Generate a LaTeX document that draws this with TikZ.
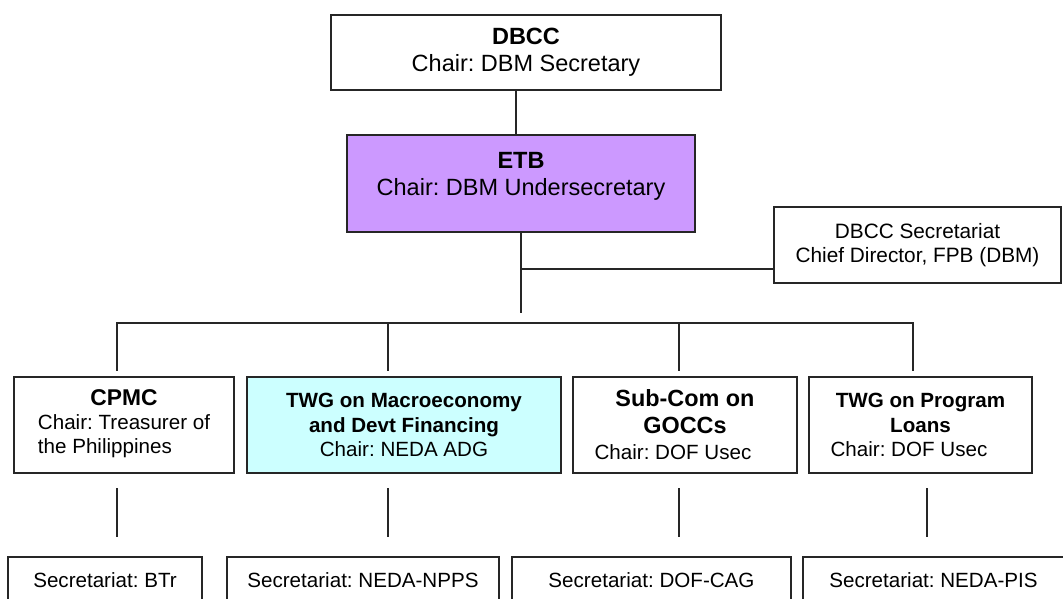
\documentclass[tikz,border=0pt]{standalone}
\usepackage{fontspec}
\setmainfont{Liberation Sans}
\usepackage{xcolor}
\usepackage{tikz}
\usetikzlibrary{positioning,calc}
\definecolor{etbfill}{HTML}{CC99FF}
\definecolor{twgfill}{HTML}{CCFFFF}
\AtBeginDocument{\frenchspacing}

\begin{document}
\begin{tikzpicture}[x=1pt, y=1pt,
  topbox/.style={rectangle, draw=black!85, line width=1.6pt, inner sep=0pt, outer sep=0pt, align=center, font=\fontsize{23.5}{27}\selectfont},
  unit/.style={rectangle, draw=black!85, line width=1.6pt, inner sep=0pt, outer sep=0pt, align=center, minimum height=96pt, font=\fontsize{20.6}{24.3}\selectfont},
  secbox/.style={rectangle, draw=black!85, line width=1.6pt, inner sep=0pt, outer sep=0pt, align=center, minimum height=76pt, font=\fontsize{20.8}{24.5}\selectfont},
  secr/.style={rectangle, draw=black!85, line width=1.6pt, inner sep=0pt, outer sep=0pt, minimum height=46pt, text height=15pt, text depth=0pt, font=\fontsize{20.6}{24.3}\selectfont},
  link/.style={draw=black!85, line width=1.6pt, line cap=rect}
]
\path[use as bounding box, clip] (0,0) rectangle (1063,-599);
\node[topbox, minimum width=390pt, minimum height=75pt] (dbcc) at (526,-52.5) {\textbf{DBCC}\\Chair: DBM Secretary};
\node[topbox, fill=etbfill, minimum width=348pt, minimum height=97pt] (etb) at (521,-183.5) {\textbf{ETB}\\Chair: DBM Undersecretary\\[-8pt]\mbox{}};
\node[secbox, minimum width=287pt] (sec) at (917.5,-245) {DBCC Secretariat\\Chief Director, FPB (DBM)};
\draw[link] ([xshift=-10pt]dbcc.south) -- ([xshift=-5pt]etb.north);
\draw[link] (etb.south) -- ++(0,-80) coordinate (trunk);
\coordinate (seclink) at ([yshift=-24pt]sec.west);
\draw[link] (seclink) -- (etb.south |- seclink);
\node[unit, minimum width=220pt] (cpmc) at (124,-425) {{\fontsize{22.8}{26}\selectfont\bfseries CPMC}\\\begin{tabular}[t]{@{}l@{}}Chair: Treasurer of\\the Philippines\end{tabular}};
\node[unit, fill=twgfill, minimum width=314pt, right=13pt of cpmc] (macro) {\textbf{TWG on Macroeconomy}\\\textbf{and Devt Financing}\\Chair: NEDA ADG};
\node[unit, minimum width=224pt, right=12pt of macro, font=\fontsize{20.6}{26.5}\selectfont] (subcom) {{\fontsize{23.4}{27}\selectfont\bfseries Sub-Com on}\\{\fontsize{23.4}{27}\selectfont\bfseries GOCCs}\\Chair: DOF Usec\hspace*{24pt}};
\node[unit, minimum width=223pt, right=12pt of subcom] (prog) {\textbf{TWG on Program}\\\textbf{Loans}\\Chair: DOF Usec\hspace*{23pt}};
\foreach \n/\dx in {cpmc/-7,macro/-16,subcom/-6,prog/-7.5}
  \draw[link] ([xshift=\dx pt,yshift=7pt]\n.north) -- ++(0,47) coordinate (up-\n);
\draw[link] (up-cpmc) -- (up-prog);
\foreach \n/\dx in {cpmc/-7,macro/-16,subcom/-6,prog/6.5}
  \draw[link] ([xshift=\dx pt,yshift=-16pt]\n.south) -- ++(0,-47);
\node[secr, minimum width=194pt] (btr) at (105,-580) {Secretariat: BTr};
\node[secr, minimum width=272pt, right=25pt of btr] (npps) {Secretariat: NEDA-NPPS};
\node[secr, minimum width=279pt, right=13pt of npps] (cag) {Secretariat: DOF-CAG};
\node[secr, minimum width=261pt, right=12pt of cag] (pis) {Secretariat: NEDA-PIS};
\end{tikzpicture}
\end{document}
